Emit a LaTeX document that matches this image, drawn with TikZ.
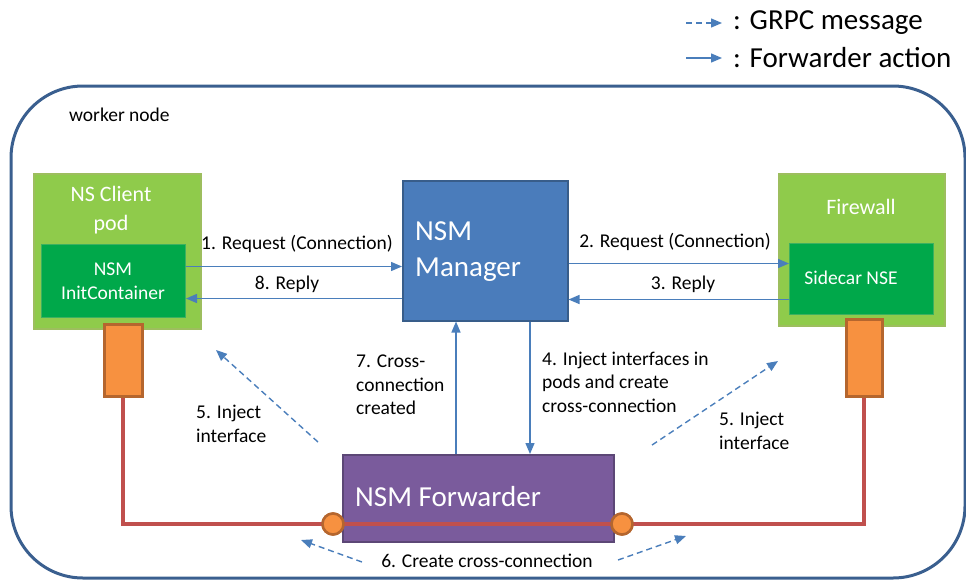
\documentclass[tikz,border=0pt]{standalone}
\usepackage{fontspec}
\setmainfont{Carlito}
\usetikzlibrary{arrows.meta,calc}

\definecolor{wnblue}{HTML}{3A5F8F}
\definecolor{podfill}{HTML}{8FCB4B}
\definecolor{podline}{HTML}{9DBE5E}
\definecolor{innerfill}{HTML}{00A84A}
\definecolor{innerline}{HTML}{3DB060}
\definecolor{mgrfill}{HTML}{4A7CBB}
\definecolor{mgrline}{HTML}{385D8A}
\definecolor{fwdfill}{HTML}{7A5B9C}
\definecolor{fwdline}{HTML}{5C4776}
\definecolor{portfill}{HTML}{F79140}
\definecolor{portline}{HTML}{B5662E}
\definecolor{wire}{HTML}{C0504D}
\definecolor{arrowblue}{HTML}{4A7EBB}

\tikzset{
  podbox/.style={draw=podline, fill=podfill, line width=1.5pt, rectangle, anchor=north west, inner sep=0pt},
  innerbox/.style={draw=innerline, fill=innerfill, line width=1pt, rectangle, anchor=north west, inner sep=0pt},
  mgrbox/.style={draw=mgrline, fill=mgrfill, line width=1.5pt, rectangle, anchor=north west, inner sep=0pt},
  fwdbox/.style={draw=fwdline, fill=fwdfill, line width=1.5pt, rectangle, anchor=north west, inner sep=0pt},
  portbox/.style={draw=portline, fill=portfill, line width=2.5pt, rectangle, anchor=north west, inner sep=0pt},
  portdot/.style={draw=portline, fill=portfill, line width=2.5pt, circle, minimum size=21pt, inner sep=0pt},
  wireline/.style={draw=wire, line width=4pt, line join=miter},
  act/.style={draw=arrowblue, line width=1.4pt, -{Triangle[length=11pt,width=9pt]}},
  grpc/.style={draw=arrowblue, line width=1.4pt, dash pattern=on 6pt off 4pt, -{Triangle[length=11pt,width=9pt]}},
  lbl/.style={font=\fontsize{19.5}{23.5}\selectfont, align=left, inner sep=0pt, text=black},
  whitetxt/.style={font=\fontsize{19.5}{24}\selectfont, align=center, inner sep=0pt, text=white},
  titletxt/.style={font=\fontsize{22}{29}\selectfont, align=center, inner sep=0pt, text=white},
  bigtxt/.style={font=\fontsize{29}{36}\selectfont, align=left, inner sep=0pt, text=white},
  legendtxt/.style={font=\fontsize{29}{34}\selectfont, inner sep=0pt, text=black, anchor=west},
}

\begin{document}
\begin{tikzpicture}[x=1pt,y=-1pt]
\useasboundingbox (0,0) rectangle (966,579);
\clip (0,0) rectangle (966,579);

% legend
\coordinate (lgA1) at (686,23);
\coordinate (lgA2) at (722,23);
\coordinate (lgB1) at (686,58);
\coordinate (lgB2) at (722,58);
\draw[grpc] (lgA1) -- (lgA2);
\draw[act] (lgB1) -- (lgB2);
\node[legendtxt] (lgtxtA) at (733,23) {: GRPC message};
\node[legendtxt] (lgtxtB) at (733,58) {: Forwarder action};

% worker node frame
\draw[draw=wnblue, line width=3pt, rounded corners=72pt] (11,86) rectangle (965,578);
\node[lbl, anchor=west] (wlabel) at (69,115) {worker node};

% pods
\node[podbox, minimum width=167pt, minimum height=155pt] (nsc) at (33,173) {};
\node[titletxt] (nsctxt) at (111,210) {NS Client\\pod};
\node[innerbox, minimum width=144pt, minimum height=73pt] (init) at (41,244) {};
\node[whitetxt] (inittxt) at (113,281) {NSM\\InitContainer};

\node[podbox, minimum width=166pt, minimum height=152pt] (fw) at (778,173) {};
\node[titletxt] (fwtxt) at (861,207) {Firewall};
\node[innerbox, minimum width=144pt, minimum height=71pt] (side) at (789,243) {};
\node[whitetxt] (sidetxt) at (851,278) {Sidecar NSE};

% manager
\node[mgrbox, minimum width=165pt, minimum height=140pt] (mgr) at (402,180) {};
\node[bigtxt, anchor=west] (mgrtxt) at (415,252) {NSM\\Manager};

% forwarder
\node[fwdbox, minimum width=271pt, minimum height=87pt] (fwd) at (342,454) {};
\node[bigtxt, anchor=west] (fwdtxt) at (355,497) {NSM Forwarder};

% data-plane wiring
\node[portdot] (lcirc) at (333,524) {};
\node[portdot] (rcirc) at (622,524) {};
\node[portbox, minimum width=38pt, minimum height=72pt] (lport) at (103,323) {};
\node[portbox, minimum width=36pt, minimum height=77pt] (rport) at (845,318) {};
\draw[wireline] (lport.south) |- (lcirc.center) -- (rcirc.center) -| (rport.south);
\node[portdot] at (lcirc) {};
\node[portdot] at (rcirc) {};
\node[portbox, minimum width=38pt, minimum height=72pt] at (103,323) {};
\node[portbox, minimum width=36pt, minimum height=77pt] at (845,318) {};

% control-plane messages
\draw[act] ([yshift=14.5pt]init.east) -- ([yshift=14.5pt]init.east -| mgr.west);
\draw[act] ([yshift=-17.5pt]init.east -| mgr.west) -- ([yshift=-17.5pt]init.east);
\draw[act] ([yshift=15.5pt]side.west -| mgr.east) -- ([yshift=15.5pt]side.west);
\draw[act] ([yshift=-20.5pt]side.west) -- ([yshift=-20.5pt]side.west -| mgr.east);
\node[lbl] (l1) at (297,244) {1. Request (Connection)};
\node[lbl] (l8) at (287,284) {8. Reply};
\node[lbl] (l2) at (675,242) {2. Request (Connection)};
\node[lbl] (l3) at (683,284) {3. Reply};

\coordinate (upx) at (456,0);
\coordinate (downx) at (530,0);
\draw[act] (upx |- fwd.north) -- (upx |- mgr.south);
\draw[act] (downx |- mgr.south) -- (downx |- fwd.north);
\node[lbl, anchor=west] (l7) at (356,385) {7. Cross-\\connection\\created};
\node[lbl, anchor=west] (l4) at (542,382) {4. Inject interfaces in\\pods and create\\cross-connection};

% interface injection
\coordinate (g5ls) at (318,442);
\coordinate (g5le) at (216,350);
\coordinate (g5rs) at (652,445);
\coordinate (g5re) at (778,361);
\draw[grpc] (g5ls) -- (g5le);
\draw[grpc] (g5rs) -- (g5re);
\node[lbl, anchor=west] (l5l) at (196,424) {5. Inject\\interface};
\node[lbl, anchor=west] (l5r) at (719,431) {5. Inject\\interface};

% cross-connection
\coordinate (g6ls) at (362,562);
\coordinate (g6le) at (301,540);
\coordinate (g6rs) at (618,560);
\coordinate (g6re) at (686,536);
\draw[grpc] (g6ls) -- (g6le);
\draw[grpc] (g6rs) -- (g6re);
\node[lbl] (l6) at (487,561) {6. Create cross-connection};
\end{tikzpicture}
\end{document}
